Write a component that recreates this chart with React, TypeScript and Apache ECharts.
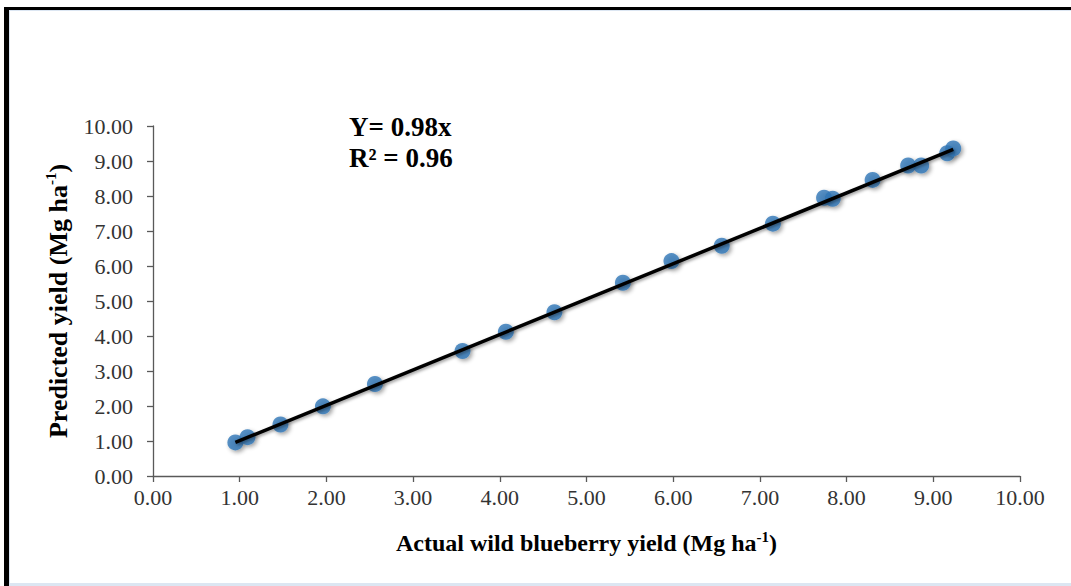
import React, { useEffect, useRef } from "react";
import * as echarts from "echarts";

const actualYield: number[] = [0.95, 1.09, 1.47, 1.96, 2.56, 3.57, 4.07, 4.63, 5.42, 5.98, 6.56, 7.15, 7.74, 7.84, 8.30, 8.71, 8.86, 9.16, 9.23];
const predictedYield: number[] = [0.96, 1.11, 1.47, 1.99, 2.63, 3.57, 4.12, 4.68, 5.52, 6.14, 6.58, 7.21, 7.95, 7.92, 8.46, 8.87, 8.87, 9.22, 9.36];
const trendX: number[] = [0.95, 9.23];
const trendY: number[] = [0.96, 9.33];
const equationLines: string[] = ["Y= 0.98x", "R² = 0.96"];
const xTitle = "Actual wild blueberry yield (Mg ha{sup|-1})";
const yTitle = "Predicted yield (Mg ha{sup|-1})";

const FONT = "Liberation Serif";

export default function App() {
  const ref = useRef<HTMLDivElement>(null);
  useEffect(() => {
    if (!ref.current) return;
    const chart = echarts.init(ref.current, null, { renderer: "svg" });
    const titleRich = {
      sup: { fontSize: 15, fontWeight: "bold", fontFamily: FONT, color: "#000", verticalAlign: "top", lineHeight: 15 },
    };
    chart.setOption({
      animation: false,
      backgroundColor: "#ffffff",
      textStyle: { fontFamily: FONT },
      grid: { left: 153, right: 51, top: 126, bottom: 110, containLabel: false },
      xAxis: {
        type: "value",
        min: 0,
        max: 10,
        interval: 1,
        splitLine: { show: false },
        axisLine: { show: true, onZero: false, lineStyle: { color: "#595959", width: 1.3 } },
        axisTick: { show: true, inside: false, length: 6, lineStyle: { color: "#595959", width: 1.3 } },
        axisLabel: {
          formatter: (v: number) => v.toFixed(2),
          fontFamily: FONT,
          fontSize: 22,
          color: "#333333",
          margin: 10,
        },
        name: xTitle,
        nameLocation: "middle",
        nameGap: 53,
        nameTextStyle: { fontFamily: FONT, fontSize: 24, fontWeight: "bold", color: "#000", lineHeight: 28, rich: titleRich },
      },
      yAxis: {
        type: "value",
        min: 0,
        max: 10,
        interval: 1,
        splitLine: { show: false },
        axisLine: { show: true, onZero: false, lineStyle: { color: "#595959", width: 1.3 } },
        axisTick: { show: true, inside: false, length: 6, lineStyle: { color: "#595959", width: 1.3 } },
        axisLabel: {
          formatter: (v: number) => v.toFixed(2),
          fontFamily: FONT,
          fontSize: 22,
          color: "#333333",
          margin: 20,
        },
        name: yTitle,
        nameLocation: "middle",
        nameRotate: 90,
        nameGap: 76,
        nameTextStyle: { fontFamily: FONT, fontSize: 26, fontWeight: "bold", color: "#000", lineHeight: 29, rich: titleRich },
      },
      graphic: [
        { type: "rect", silent: true, shape: { x: 4, y: 7, width: 1067, height: 3 }, style: { fill: "#000" } },
        { type: "rect", silent: true, shape: { x: 4, y: 7, width: 5, height: 579 }, style: { fill: "#000" } },
        { type: "rect", silent: true, shape: { x: 9, y: 10, width: 1062, height: 1 }, style: { fill: "#DCE6F2" } },
        { type: "rect", silent: true, shape: { x: 9, y: 10, width: 1, height: 576 }, style: { fill: "#DCE6F2" } },
        { type: "rect", silent: true, shape: { x: 9, y: 583, width: 1062, height: 3 }, style: { fill: "#DCE6F2" } },
        {
          type: "text",
          silent: true,
          style: { text: equationLines[0], x: 349, y: 113, font: `bold 27px ${FONT}`, fill: "#000", textVerticalAlign: "top" },
        },
        {
          type: "text",
          silent: true,
          style: { text: equationLines[1], x: 349, y: 144, font: `bold 27px ${FONT}`, fill: "#000", textVerticalAlign: "top" },
        },
      ],
      series: [
        {
          type: "scatter",
          data: actualYield.map((x, i) => [x, predictedYield[i]]),
          symbol: "circle",
          symbolSize: 16,
          itemStyle: {
            color: "#2E75B6",
            shadowBlur: 4,
            shadowColor: "rgba(0,0,0,0.45)",
            shadowOffsetX: 2,
            shadowOffsetY: 2,
          },
          z: 2,
        },
        {
          type: "line",
          data: trendX.map((x, i) => [x, trendY[i]]),
          showSymbol: false,
          symbol: "none",
          lineStyle: {
            color: "#000",
            width: 3.5,
            shadowBlur: 3,
            shadowColor: "rgba(0,0,0,0.4)",
            shadowOffsetX: 1.5,
            shadowOffsetY: 1.5,
          },
          z: 3,
        },
      ],
    });
    return () => chart.dispose();
  }, []);
  return (
    <div
      ref={ref}
      style={{ position: "absolute", left: 0, top: 0, width: 1071, height: 586 }}
    />
  );
}
